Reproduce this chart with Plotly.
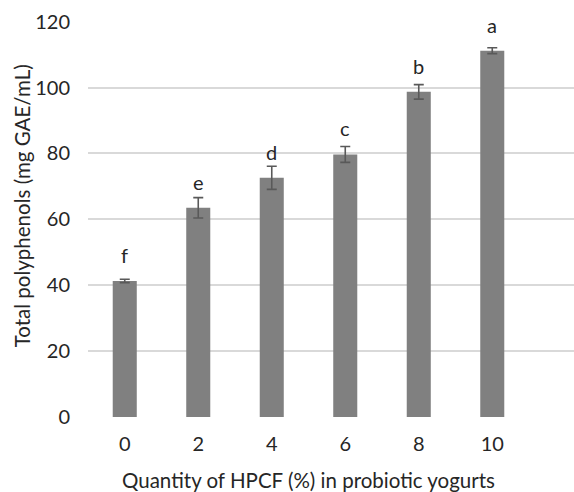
import plotly.graph_objects as go

# Total polyphenol content of probiotic yogurts by HPCF addition level
hpcf_levels = ["0", "2", "4", "6", "8", "10"]
polyphenols = [41.3, 63.5, 72.6, 79.7, 98.7, 111.2]
std_dev = [0.5, 3.1, 3.5, 2.4, 2.2, 0.9]
letters = ["f", "e", "d", "c", "b", "a"]

x_title = "Quantity of HPCF (%) in probiotic yogurts"
y_title = "Total polyphenols (mg GAE/mL)"
y_ticks = [0, 20, 40, 60, 80, 100, 120]

FONT = "Lato, 'Open Sans', sans-serif"
TEXT = "#262626"

fig = go.Figure(
    go.Bar(
        x=hpcf_levels,
        y=polyphenols,
        width=0.327,
        marker=dict(color="#808080", line=dict(width=0)),
        error_y=dict(type="data", array=std_dev, visible=True,
                     color="#595959", thickness=1.6, width=5),
        hoverinfo="x+y",
    )
)

# significance letters sit a fixed distance above each bar
# (category axis positions are addressed by index)
for i, (val, let) in enumerate(zip(polyphenols, letters)):
    fig.add_annotation(x=i, y=val, text=let, showarrow=False,
                       xref="x", yref="y", yanchor="bottom", yshift=12,
                       font=dict(family=FONT, size=20, color=TEXT))

# axis titles
fig.add_annotation(x=2.5, xref="x", y=-0.158, yref="paper", text=x_title,
                   showarrow=False, yanchor="middle", xanchor="center",
                   font=dict(family=FONT, size=20.5, color=TEXT))
fig.add_annotation(x=-0.1358, xref="paper", y=0.532, yref="paper", text=y_title,
                   showarrow=False, textangle=-90, xanchor="center", yanchor="middle",
                   font=dict(family=FONT, size=20.5, color=TEXT))

fig.update_layout(
    width=574, height=492,
    margin=dict(l=88, r=0, t=21, b=75.3),
    paper_bgcolor="white", plot_bgcolor="white",
    showlegend=False,
    font=dict(family=FONT, size=20, color=TEXT),
)
fig.update_xaxes(
    type="category", range=[-0.5, 6.112],
    showgrid=False, showline=False, zeroline=False, ticks="",
    ticklabelstandoff=13,
    tickfont=dict(family=FONT, size=20, color=TEXT),
)
fig.update_yaxes(
    range=[0, 120.2], tickvals=y_ticks,
    showgrid=True, gridcolor="#d9d9d9", gridwidth=1.5,
    zeroline=False, showline=False, ticks="",
    ticklabelstandoff=17,
    tickfont=dict(family=FONT, size=20, color=TEXT),
)

fig.write_html("out.html")
